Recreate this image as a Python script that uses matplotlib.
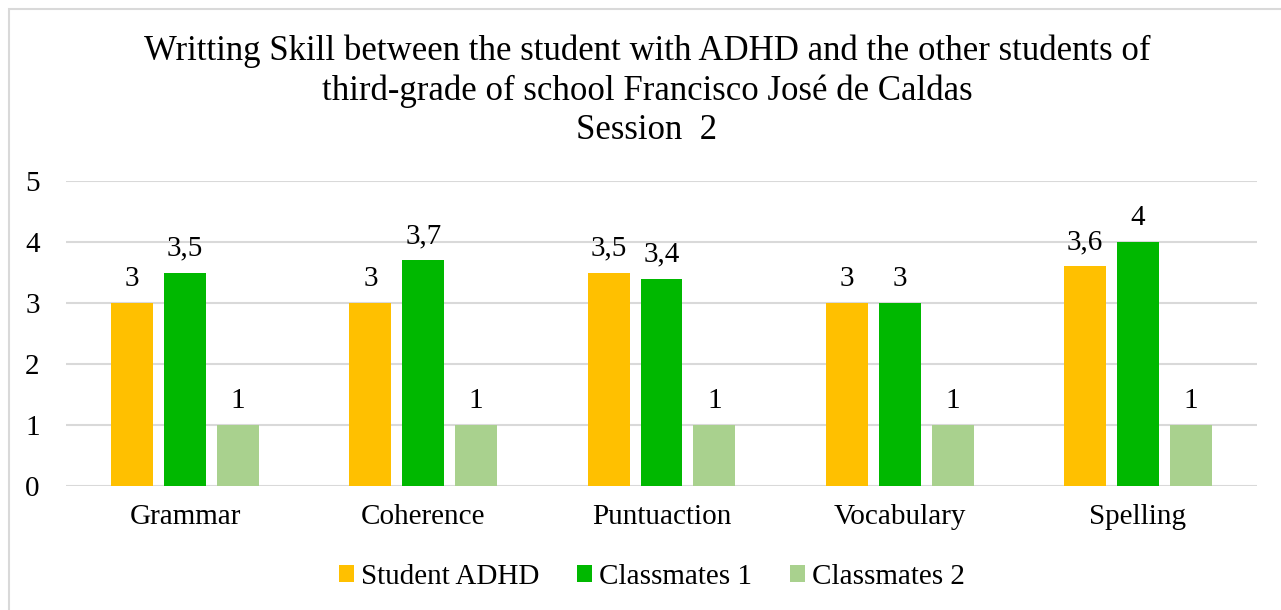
import matplotlib.pyplot as plt
import numpy as np
from matplotlib.patches import Rectangle

# Datos del gráfico
categories = ['Grammar', 'Coherence', 'Puntuaction', 'Vocabulary', 'Spelling']
student_adhd = [3, 3, 3.5, 3, 3.6]
classmates_1 = [3.5, 3.7, 3.4, 3, 4]
classmates_2 = [1, 1, 1, 1, 1]
series_names = ['Student ADHD', 'Classmates 1', 'Classmates 2']
colors = ['#FFC000', '#00B800', '#A9D18E']

plt.rcParams['font.family'] = ['Liberation Serif', 'DejaVu Serif']

fig = plt.figure(figsize=(12.81, 6.10), dpi=100)
ax = fig.add_axes([66 / 1281, 124 / 610, (1257 - 66) / 1281, (486 - 181) / 610])

# borde exterior del gráfico
fig.patches.append(Rectangle((8.5 / 1281, -0.1), 1.2, 1 - 8.5 / 610 + 0.1,
                             transform=fig.transFigure, fill=False,
                             edgecolor='#D9D9D9', linewidth=1.5))

x = np.arange(len(categories))
width = 0.176
offsets = [-0.222, 0, 0.222]
all_series = [student_adhd, classmates_1, classmates_2]

for vals, off, col, name in zip(all_series, offsets, colors, series_names):
    bars = ax.bar(x + off, vals, width, color=col, label=name, zorder=3)
    for b, v in zip(bars, vals):
        txt = ('%g' % v).replace('.', ',')
        ax.annotate(txt, (b.get_x() + b.get_width() / 2, v),
                    xytext=(0, 8), textcoords='offset points',
                    ha='center', va='bottom', fontsize=21)

ax.set_xlim(-0.5, len(categories) - 0.5)
ax.set_ylim(0, 5)
ax.set_yticks(range(6))
ax.set_xticks(x)
ax.set_xticklabels(categories, fontsize=21)
ax.tick_params(axis='y', labelsize=21, length=0, pad=19)
ax.tick_params(axis='x', length=0, pad=13)
ax.yaxis.grid(True, color='#D9D9D9', linewidth=1.5, zorder=0)
for s in ax.spines.values():
    s.set_visible(False)

fig.text(647 / 1281, 1 - 91 / 610,
         'Writting Skill between the student with ADHD and the other students of\n'
         'third-grade of school Francisco José de Caldas\nSession  2',
         ha='center', va='center', fontsize=25, linespacing=1.25)

ax.legend(loc='center', bbox_to_anchor=(652 / 1281, 1 - 577 / 610),
          bbox_transform=fig.transFigure, ncol=3, frameon=False,
          fontsize=21, handlelength=0.5, handleheight=0.5,
          handletextpad=0.25, columnspacing=1.3, borderpad=0)

fig.savefig('out.png', dpi=100)
